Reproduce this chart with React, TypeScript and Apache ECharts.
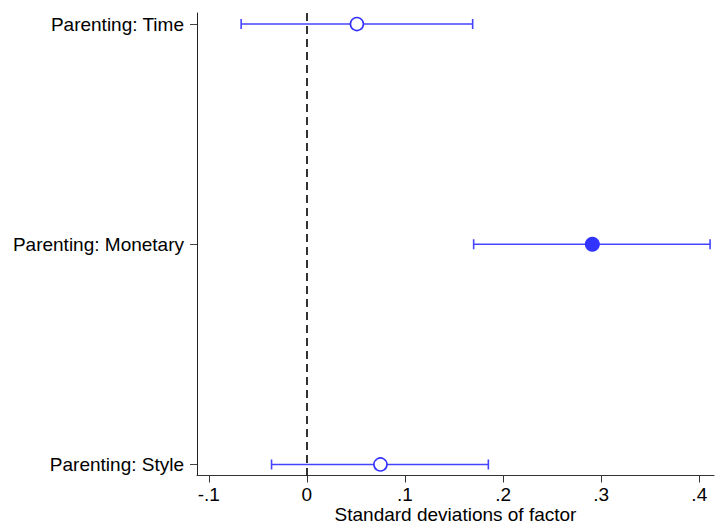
import React, { useEffect, useRef } from "react";
import * as echarts from "echarts";

const categories = ["Parenting: Time", "Parenting: Monetary", "Parenting: Style"];
const positions = [1, 2, 3];
const estimates = [0.051, 0.291, 0.075];
const lowerCI = [-0.067, 0.170, -0.036];
const upperCI = [0.169, 0.411, 0.185];
const significant = [false, true, false];
const xTicks = [-0.1, 0, 0.1, 0.2, 0.3, 0.4];
const xTitle = "Standard deviations of factor";

const FONT = "'Liberation Sans', Arial, sans-serif";
const LINE_COLOR = "#4444ff";
const MARK_COLOR = "#3333ff";

export default function App() {
  const ref = useRef<HTMLDivElement>(null);
  useEffect(() => {
    if (!ref.current) return;
    const chart = echarts.init(ref.current, undefined, { renderer: "svg" });
    const barData = positions.map((p, i) => [p, lowerCI[i], upperCI[i]]);
    const hollow = positions
      .map((p, i) => (significant[i] ? null : [estimates[i], p]))
      .filter((d) => d !== null);
    const filled = positions
      .map((p, i) => (significant[i] ? [estimates[i], p] : null))
      .filter((d) => d !== null);
    chart.setOption({
      animation: false,
      backgroundColor: "#ffffff",
      textStyle: { fontFamily: FONT },
      grid: {
        left: 197,
        right: 1,
        top: 13,
        bottom: 49.5,
        containLabel: false,
        outerBoundsMode: "none",
      },
      xAxis: {
        type: "value",
        min: -0.112,
        max: 0.415,
        name: xTitle,
        nameLocation: "middle",
        nameGap: 29,
        nameMoveOverlap: false,
        nameTextStyle: { fontSize: 19, lineHeight: 19, color: "#000", fontFamily: FONT },
        axisLine: { show: true, onZero: false, lineStyle: { color: "#333", width: 1 } },
        axisTick: { show: true, length: 7, lineStyle: { color: "#333" }, customValues: xTicks },
        axisLabel: {
          show: true,
          customValues: xTicks,
          fontSize: 19,
          color: "#000",
          fontFamily: FONT,
          margin: 9,
          formatter: (v: number) => {
            const r = Math.round(v * 10) / 10;
            if (r === 0) return "0";
            return String(r).replace("0.", ".");
          },
        },
        splitLine: { show: false },
      },
      yAxis: {
        type: "value",
        min: 0.95,
        max: 3.05,
        inverse: true,
        axisLine: { show: true, onZero: false, lineStyle: { color: "#222", width: 1 } },
        axisTick: { show: true, length: 7, lineStyle: { color: "#444" }, customValues: positions },
        axisLabel: {
          show: true,
          customValues: positions,
          fontSize: 19,
          color: "#000",
          fontFamily: FONT,
          margin: 13,
          formatter: (v: number) => categories[positions.indexOf(Math.round(v))] || "",
        },
        splitLine: { show: false },
      },
      series: [
        {
          type: "custom",
          data: barData,
          encode: { x: [1, 2], y: 0 },
          z: 2,
          renderItem: (params: any, api: any) => {
            const y = api.value(0);
            const lo = api.coord([api.value(1), y]);
            const hi = api.coord([api.value(2), y]);
            const cap = 5;
            const style = { stroke: LINE_COLOR, lineWidth: 1.6 };
            return {
              type: "group",
              children: [
                { type: "line", shape: { x1: lo[0], y1: lo[1], x2: hi[0], y2: hi[1] }, style },
                { type: "line", shape: { x1: lo[0], y1: lo[1] - cap, x2: lo[0], y2: lo[1] + cap }, style },
                { type: "line", shape: { x1: hi[0], y1: hi[1] - cap, x2: hi[0], y2: hi[1] + cap }, style },
              ],
            };
          },
          markLine: {
            silent: true,
            symbol: "none",
            label: { show: false },
            lineStyle: { color: "#000", type: [8, 5], width: 1.6 },
            data: [{ xAxis: 0 }],
          },
        },
        {
          type: "scatter",
          data: hollow,
          symbol: "circle",
          symbolSize: 13,
          z: 3,
          itemStyle: { color: "#ffffff", borderColor: MARK_COLOR, borderWidth: 1.6, opacity: 1 },
        },
        {
          type: "scatter",
          data: filled,
          symbol: "circle",
          symbolSize: 15,
          z: 3,
          itemStyle: { color: MARK_COLOR, opacity: 1 },
        },
      ],
    });
    return () => chart.dispose();
  }, []);
  return (
    <div
      ref={ref}
      style={{ position: "absolute", left: 0, top: 0, width: 715, height: 525 }}
    />
  );
}
